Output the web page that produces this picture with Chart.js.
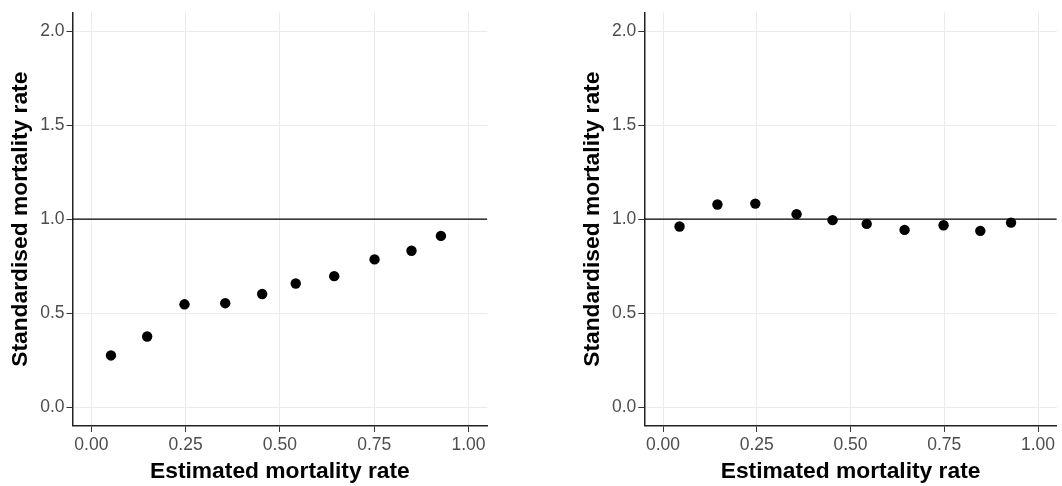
<!DOCTYPE html>
<html>
<head>
<meta charset="utf-8">
<script src="https://cdn.jsdelivr.net/npm/chart.js@4/dist/chart.umd.min.js"></script>
<style>
  html, body { margin: 0; padding: 0; background: #ffffff; }
  #wrap { position: relative; width: 1062px; height: 486px; overflow: hidden; }
  .panel { position: absolute; top: 0; width: 531px; height: 486px; }
  #p1 { left: 0; }
  #p2 { left: 531px; }
</style>
</head>
<body>
<div id="wrap">
  <div class="panel" id="p1"><canvas id="c1" width="531" height="486"></canvas></div>
  <div class="panel" id="p2"><canvas id="c2" width="531" height="486"></canvas></div>
</div>
<script>
// ---- data ----
const xTicks = [0, 0.25, 0.5, 0.75, 1];
const yTicks = [0, 0.5, 1, 1.5, 2];
const xLimits = [-0.05, 1.05];
const yLimits = [-0.1, 2.1];
const refLine = 1;

const leftX  = [0.052, 0.148, 0.247, 0.355, 0.453, 0.542, 0.644, 0.751, 0.849, 0.927];
const leftY  = [0.275, 0.376, 0.547, 0.553, 0.602, 0.658, 0.697, 0.786, 0.832, 0.911];
const rightX = [0.044, 0.145, 0.246, 0.356, 0.452, 0.543, 0.644, 0.748, 0.846, 0.928];
const rightY = [0.961, 1.078, 1.083, 1.027, 0.995, 0.975, 0.943, 0.968, 0.938, 0.982];

const xTitle = 'Estimated mortality rate';
const yTitle = 'Standardised mortality rate';

const FONT = '"Liberation Sans", Arial, Helvetica, sans-serif';

function makeChart(canvasId, xs, ys, padLeft, padRight) {
  const pts = xs.map((x, i) => ({ x: x, y: ys[i] }));
  const ref = [{ x: xLimits[0], y: refLine }, { x: xLimits[1], y: refLine }];
  return new Chart(document.getElementById(canvasId), {
    type: 'scatter',
    data: {
      datasets: [
        {
          type: 'line',
          data: ref,
          borderColor: '#000000',
          borderWidth: 1.3,
          pointRadius: 0,
          showLine: true,
          fill: false,
          order: 2
        },
        {
          data: pts,
          backgroundColor: '#000000',
          borderWidth: 0,
          pointRadius: 5.2,
          pointHoverRadius: 5.2,
          order: 1
        }
      ]
    },
    options: {
      responsive: false,
      animation: false,
      devicePixelRatio: 1,
      layout: { padding: { top: 11.7, left: padLeft, right: padRight, bottom: 0 } },
      plugins: { legend: { display: false }, tooltip: { enabled: false } },
      scales: {
        x: {
          type: 'linear',
          min: xLimits[0],
          max: xLimits[1],
          afterBuildTicks: (s) => { s.ticks = xTicks.map(v => ({ value: v })); },
          afterFit: (s) => { s.height = 60.1; },
          ticks: {
            callback: (v) => Number(v).toFixed(2),
            color: '#4d4d4d',
            font: { family: FONT, size: 17.5 },
            padding: 3,
            maxRotation: 0
          },
          grid: { color: '#ebebeb', lineWidth: 1, tickLength: 6, tickColor: '#333333', tickWidth: 1 },
          border: { display: true, color: '#222222', width: 1.5 },
          title: {
            display: true,
            text: xTitle,
            color: '#000000',
            font: { family: FONT, size: 22.8, weight: 'bold' },
            padding: { top: 0, bottom: 1 }
          }
        },
        y: {
          type: 'linear',
          min: yLimits[0],
          max: yLimits[1],
          afterBuildTicks: (s) => { s.ticks = yTicks.map(v => ({ value: v })); },
          afterFit: (s) => { s.width = 72.5; },
          ticks: {
            callback: (v) => Number(v).toFixed(1),
            color: '#4d4d4d',
            font: { family: FONT, size: 17.5 },
            padding: 2
          },
          grid: { color: '#ebebeb', lineWidth: 1, tickLength: 6, tickColor: '#333333', tickWidth: 1 },
          border: { display: true, color: '#222222', width: 1.5 },
          title: {
            display: true,
            text: yTitle,
            color: '#000000',
            font: { family: FONT, size: 22.8, weight: 'bold' },
            padding: { top: 7, bottom: 0 }
          }
        }
      }
    }
  });
}

makeChart('c1', leftX, leftY, 0, 43.7);
makeChart('c2', rightX, rightY, 40.8, 4);
</script>
</body>
</html>
